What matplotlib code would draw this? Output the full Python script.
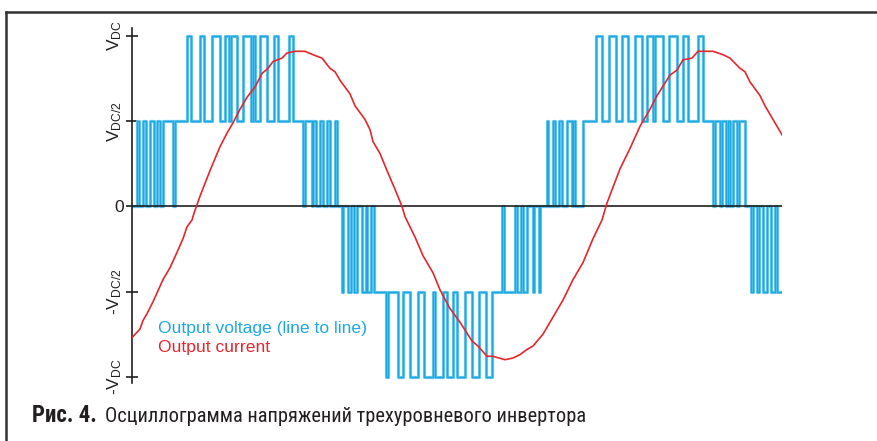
import matplotlib
matplotlib.use("Agg")
import matplotlib.pyplot as plt
from matplotlib.lines import Line2D

# time in samples, levels in units of V_DC
T_END = 650

# three-level line-to-line voltage: each block switches between two levels
# (level before first toggle, other level, toggle instants)
sec_a = (0.0, 0.5, [5, 7, 11, 14, 18, 22, 25, 28, 31, 41, 43])
sec_b = (0.5, 1.0, [55, 59, 68, 72, 80, 88, 93, 97, 99, 105, 111, 119,
                    121, 123, 128, 135, 142, 146, 157, 161])
sec_c = (0.5, 0.0, [171, 173, 180, 181, 184, 188, 191, 195, 198, 203, 205])
sec_d = (0.0, -0.5, [210, 211, 216, 219, 222, 225, 230, 234, 235, 239, 242])
sec_e = (-0.5, -1.0, [254, 256, 266, 271, 278, 286, 292, 301, 303, 311,
                      315, 321, 325, 333, 340, 347, 354, 360])
sec_f = (-0.5, 0.0, [370, 372, 383, 385, 389, 391, 395, 401, 402, 407, 408])
sec_g = (0.0, 0.5, [415, 416, 421, 423, 427, 430, 435, 440, 441, 443, 451])
sec_h = (0.5, 1.0, [464, 470, 477, 484, 490, 496, 503, 510, 515, 521,
                    523, 531, 537, 545, 551, 556, 566, 571])
sec_i = (0.5, 0.0, [581, 583, 588, 590, 594, 596, 598, 601, 605, 607, 613])
sec_j = (0.0, -0.5, [619, 621, 625, 627, 631, 635, 639, 643, 645])

# output current (same vertical scale)
cur_t = [0, 8, 11, 15, 21, 31, 38, 45, 51, 55, 60, 62, 65, 68, 78, 88, 95,
         101, 108, 115, 123, 130, 136, 141, 150, 155, 163, 173, 181, 190,
         198, 203, 208, 218, 223, 233, 238, 241, 248, 255, 263, 270, 273,
         283, 291, 301, 308, 318, 328, 340, 346, 355, 361, 373, 381, 388,
         395, 401, 411, 421, 431, 441, 451, 461, 470, 475, 488, 498, 508,
         518, 525, 538, 545, 551, 560, 566, 581, 591, 598, 608, 613, 618,
         628, 633, 641, 650]
cur_i = [-0.77, -0.72, -0.67, -0.63, -0.56, -0.43, -0.36, -0.27, -0.19,
         -0.12, -0.08, -0.04, 0.01, 0.06, 0.21, 0.35, 0.43, 0.49, 0.57,
         0.64, 0.70, 0.78, 0.81, 0.85, 0.87, 0.90, 0.91, 0.91, 0.89, 0.87,
         0.81, 0.79, 0.74, 0.66, 0.59, 0.51, 0.45, 0.38, 0.31, 0.21, 0.10,
         0.00, -0.06, -0.18, -0.29, -0.39, -0.49, -0.60, -0.68, -0.79,
         -0.82, -0.88, -0.88, -0.90, -0.89, -0.87, -0.84, -0.82, -0.75,
         -0.65, -0.55, -0.43, -0.33, -0.19, -0.08, 0.02, 0.22, 0.34, 0.47,
         0.57, 0.65, 0.77, 0.80, 0.86, 0.87, 0.91, 0.91, 0.89, 0.87, 0.81,
         0.79, 0.73, 0.65, 0.59, 0.51, 0.42]

tick_vals = [1.0, 0.5, 0.0, -0.5, -1.0]
tick_text = ["V$_{DC}$", "V$_{DC/2}$", "0", "-V$_{DC/2}$", "-V$_{DC}$"]

caption_num = "Рис. 4."
caption_text = "Осциллограмма напряжений трехуровневого инвертора"

BLUE = "#1ea8e0"
BLUE_LIGHT = "#6cc8ef"
RED = "#e5262d"
INK = "#231f20"


def build_steps(sections):
    t, v = [0], [sections[0][0]]
    level = sections[0][0]
    for a, b, toggles in sections:
        for s in toggles:
            level = b if level == a else a
            t.append(s)
            v.append(level)
    t.append(T_END)
    v.append(level)
    return t, v


def main():
    plt.rcParams["font.family"] = ["Liberation Sans", "DejaVu Sans"]
    plt.rcParams["mathtext.default"] = "regular"

    fig = plt.figure(figsize=(8.77, 4.41), dpi=100)
    ax = fig.add_axes([132 / 877, 58.3 / 441, 650 / 877, 354.4 / 441])

    volt_t, volt_v = build_steps([sec_a, sec_b, sec_c, sec_d, sec_e,
                                  sec_f, sec_g, sec_h, sec_i, sec_j])
    # light wide stroke under a thin one gives the doubled trace look
    ax.step(volt_t, volt_v, where="post", color=BLUE_LIGHT, lw=2.3, zorder=2)
    ax.step(volt_t, volt_v, where="post", color=BLUE, lw=1.0, zorder=2)
    ax.plot(cur_t, cur_i, color=RED, lw=1.2, zorder=4)
    ax.axhline(0, color=INK, lw=1.2, zorder=3)

    ax.set_xlim(0, T_END)
    ax.set_ylim(-1.035, 1.045)
    for side in ["top", "right", "bottom"]:
        ax.spines[side].set_visible(False)
    ax.spines["left"].set_color(INK)
    ax.spines["left"].set_linewidth(1.2)
    ax.set_xticks([])
    ax.set_yticks(tick_vals)
    ax.set_yticklabels(tick_text, fontsize=12.5, color=INK)
    ax.tick_params(axis="y", direction="inout", length=9, width=1.2,
                   color=INK, pad=1)
    for lab in ax.get_yticklabels():
        if lab.get_text() != "0":
            lab.set_rotation(90)
            lab.set_va("center")

    # legend written straight onto the plot
    ax.text(26, -0.715, "Output voltage (line to line)", color=BLUE,
            fontsize=12.6, va="center")
    ax.text(26, -0.83, "Output current", color=RED, fontsize=12.6,
            va="center")

    # frame around the figure (top and left edges)
    fig.add_artist(Line2D([6 / 877, 1], [1 - 12 / 441] * 2,
                          transform=fig.transFigure, color="#333333", lw=1.8))
    fig.add_artist(Line2D([6 / 877] * 2, [0, 1 - 12 / 441],
                          transform=fig.transFigure, color="#333333", lw=1.8))

    cond = ["Liberation Sans Narrow", "DejaVu Sans Condensed",
            "Roboto Condensed", "Liberation Sans"]
    fig.text(31.7 / 877, 19 / 441, caption_num, family=cond,
             fontweight="heavy", fontsize=16.5, color=INK)
    fig.text(105 / 877, 19 / 441, caption_text, family=cond,
             fontsize=14.7, color=INK)

    fig.savefig("out.png", dpi=100)


if __name__ == "__main__":
    main()
